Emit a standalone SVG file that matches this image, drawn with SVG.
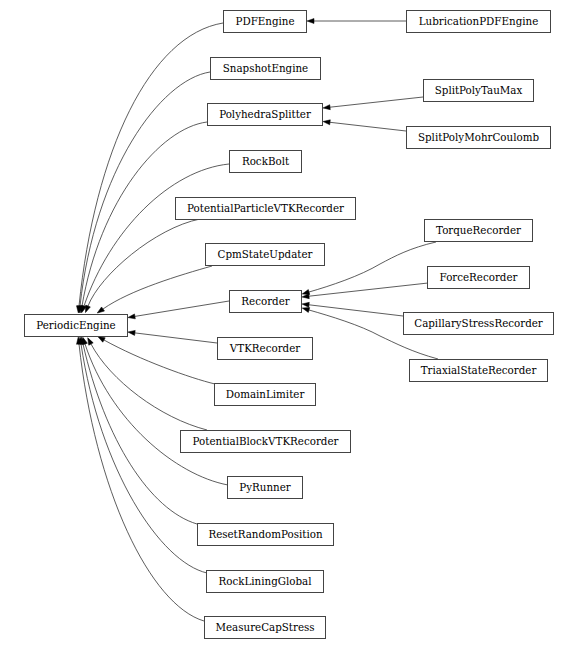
<svg xmlns="http://www.w3.org/2000/svg" width="578" height="650" viewBox="0 0 578 650">
<style>
.n rect{fill:#fff;stroke:#444;stroke-width:1}
.n text{font-family:"DejaVu Serif",serif;font-size:10.3px;fill:#000;text-anchor:middle}
.e path{fill:none;stroke:#333;stroke-width:0.8;marker-end:url(#a)}
</style>
<defs>
<marker id="a" markerUnits="userSpaceOnUse" markerWidth="8" markerHeight="6" refX="0" refY="2.5" orient="auto" overflow="visible"><path d="M0,0 L7,2.5 L0,5z" fill="#000" stroke="#000" stroke-width="0.5"/></marker>
</defs>
<rect width="578" height="650" fill="#fff"/>
<g id="edges" class="e">
<path d="M406,21 L314,21"/>
<path d="M423,97 L330,107.2"/>
<path d="M406,131 L330,122.3"/>
<path d="M436,242 C410,248 395,256 380,264 C360,276 330,286 309,292"/>
<path d="M428,283 L309,296.2"/>
<path d="M403,316 L309,304.8"/>
<path d="M438,359 C412,352 395,343 380,336 C360,325 330,316 309,310"/>
<path d="M223,23 C150,35 95,150 79,306"/>
<path d="M210,72 C160,80 95,170 80,306"/>
<path d="M207,122 C160,128 100,200 82,306"/>
<path d="M229,164 C170,170 110,230 84,306"/>
<path d="M200,219 C155,228 100,275 88,306"/>
<path d="M212,266 C180,275 130,290 103,309"/>
<path d="M229,301 L134.9,316.4"/>
<path d="M217,343 L134.9,332.9"/>
<path d="M215,384 C190,378 140,360 104,340"/>
<path d="M207,430 C160,418 110,380 91,344"/>
<path d="M228,485 C175,475 110,420 85,344"/>
<path d="M197,524 C150,510 105,440 83,344"/>
<path d="M207,573 C160,562 100,470 81,344"/>
<path d="M204,621 C150,605 95,490 79,344"/>
</g>
<g id="PeriodicEngine" class="n"><rect x="24.5" y="314.5" width="103" height="22"/><text x="76" y="329">PeriodicEngine</text></g>
<g id="PDFEngine" class="n"><rect x="223.5" y="10.5" width="83" height="22"/><text x="265" y="25">PDFEngine</text></g>
<g id="LubricationPDFEngine" class="n"><rect x="406.5" y="10.5" width="144" height="22"/><text x="478.5" y="25">LubricationPDFEngine</text></g>
<g id="SnapshotEngine" class="n"><rect x="210.5" y="57.5" width="110" height="22"/><text x="265.5" y="72">SnapshotEngine</text></g>
<g id="PolyhedraSplitter" class="n"><rect x="207.5" y="103.5" width="115" height="22"/><text x="265" y="118">PolyhedraSplitter</text></g>
<g id="SplitPolyTauMax" class="n"><rect x="423.5" y="79.5" width="110" height="22"/><text x="478.5" y="94">SplitPolyTauMax</text></g>
<g id="SplitPolyMohrCoulomb" class="n"><rect x="406.5" y="126.5" width="144" height="22"/><text x="478.5" y="141">SplitPolyMohrCoulomb</text></g>
<g id="RockBolt" class="n"><rect x="229.5" y="150.5" width="72" height="22"/><text x="265.5" y="165">RockBolt</text></g>
<g id="PotentialParticleVTKRecorder" class="n"><rect x="175.5" y="197.5" width="180" height="22"/><text x="265.5" y="212">PotentialParticleVTKRecorder</text></g>
<g id="CpmStateUpdater" class="n"><rect x="205.5" y="243.5" width="119" height="22"/><text x="265" y="258">CpmStateUpdater</text></g>
<g id="Recorder" class="n"><rect x="229.5" y="290.5" width="72" height="22"/><text x="265.5" y="305">Recorder</text></g>
<g id="VTKRecorder" class="n"><rect x="217.5" y="337.5" width="95" height="22"/><text x="265" y="352">VTKRecorder</text></g>
<g id="DomainLimiter" class="n"><rect x="214.5" y="383.5" width="101" height="22"/><text x="265" y="398">DomainLimiter</text></g>
<g id="TorqueRecorder" class="n"><rect x="424.5" y="219.5" width="108" height="22"/><text x="478.5" y="234">TorqueRecorder</text></g>
<g id="ForceRecorder" class="n"><rect x="427.5" y="266.5" width="102" height="22"/><text x="478.5" y="281">ForceRecorder</text></g>
<g id="CapillaryStressRecorder" class="n"><rect x="403.5" y="312.5" width="150" height="22"/><text x="478.5" y="327">CapillaryStressRecorder</text></g>
<g id="TriaxialStateRecorder" class="n"><rect x="409.5" y="359.5" width="138" height="22"/><text x="478.5" y="374">TriaxialStateRecorder</text></g>
<g id="PotentialBlockVTKRecorder" class="n"><rect x="180.5" y="430.5" width="170" height="22"/><text x="265.5" y="445">PotentialBlockVTKRecorder</text></g>
<g id="PyRunner" class="n"><rect x="227.5" y="476.5" width="75" height="22"/><text x="265" y="491">PyRunner</text></g>
<g id="ResetRandomPosition" class="n"><rect x="197.5" y="523.5" width="136" height="22"/><text x="265.5" y="538">ResetRandomPosition</text></g>
<g id="RockLiningGlobal" class="n"><rect x="206.5" y="570.5" width="117" height="22"/><text x="265" y="585">RockLiningGlobal</text></g>
<g id="MeasureCapStress" class="n"><rect x="204.5" y="616.5" width="121" height="22"/><text x="265" y="631">MeasureCapStress</text></g>
</svg>
